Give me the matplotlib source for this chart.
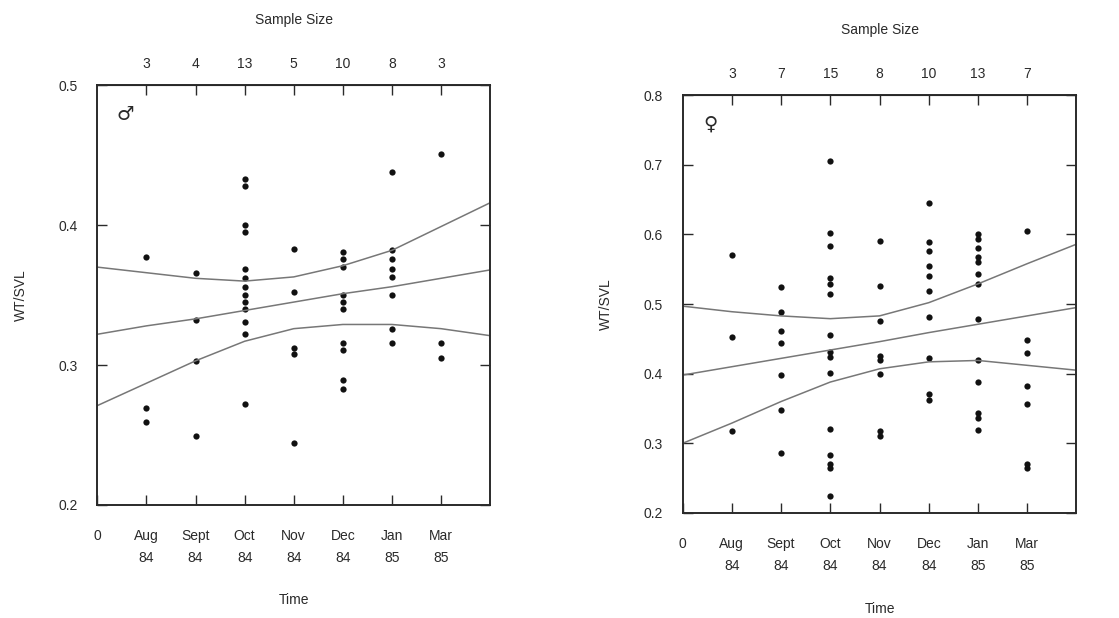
import numpy as np
import matplotlib.pyplot as plt

plt.rcParams['font.family'] = ['Liberation Sans', 'DejaVu Sans']

months = ['Aug\n84', 'Sept\n84', 'Oct\n84', 'Nov\n84', 'Dec\n84', 'Jan\n85', 'Mar\n85']

# male WT/SVL, one list per month
male = [
    [0.377, 0.269, 0.259],
    [0.366, 0.332, 0.303, 0.249],
    [0.433, 0.428, 0.400, 0.395, 0.369, 0.362, 0.356, 0.350, 0.345, 0.340,
     0.331, 0.322, 0.272],
    [0.383, 0.352, 0.312, 0.308, 0.244],
    [0.381, 0.376, 0.370, 0.350, 0.345, 0.340, 0.316, 0.311, 0.289, 0.283],
    [0.438, 0.382, 0.376, 0.369, 0.363, 0.350, 0.326, 0.316],
    [0.451, 0.316, 0.305],
]
male_n = [3, 4, 13, 5, 10, 8, 3]

# female WT/SVL
female = [
    [0.571, 0.453, 0.317],
    [0.524, 0.488, 0.462, 0.444, 0.398, 0.348, 0.286],
    [0.705, 0.602, 0.583, 0.538, 0.529, 0.515, 0.455, 0.431, 0.424, 0.401,
     0.321, 0.283, 0.271, 0.264, 0.224],
    [0.590, 0.526, 0.475, 0.426, 0.419, 0.399, 0.317, 0.310],
    [0.645, 0.589, 0.576, 0.555, 0.540, 0.519, 0.482, 0.423, 0.371, 0.362],
    [0.601, 0.593, 0.581, 0.567, 0.560, 0.543, 0.529, 0.479, 0.420, 0.388,
     0.343, 0.336, 0.319],
    [0.605, 0.448, 0.429, 0.383, 0.357, 0.271, 0.264],
]
female_n = [3, 7, 15, 8, 10, 13, 7]

# fitted line and bands, read at x = 0..8
curve_x = [0, 1, 2, 3, 4, 5, 6, 7, 8]
male_fit = [0.322, 0.328, 0.333, 0.339, 0.345, 0.351, 0.356, 0.362, 0.368]
male_hi = [0.370, 0.366, 0.362, 0.360, 0.363, 0.371, 0.382, 0.399, 0.416]
male_lo = [0.271, 0.287, 0.303, 0.317, 0.326, 0.329, 0.329, 0.326, 0.321]
female_fit = [0.398, 0.410, 0.422, 0.434, 0.446, 0.459, 0.471, 0.483, 0.495]
female_hi = [0.497, 0.489, 0.483, 0.479, 0.483, 0.502, 0.529, 0.558, 0.586]
female_lo = [0.300, 0.329, 0.360, 0.388, 0.407, 0.417, 0.419, 0.412, 0.405]

ink = '#2a2a2a'
fs = 10
fig = plt.figure(figsize=(11.19, 6.18), dpi=100)


def panel(rect, data, n, fit, hi, lo, ylim, yticks, sym, tpad):
    ax = fig.add_axes(rect)
    for i, vals in enumerate(data):
        ax.plot([i + 1] * len(vals), vals, 'o', color='#111111', ms=4.5,
                mec='none')
    for c in (fit, hi, lo):
        ax.plot(curve_x, c, color='#777777', lw=1.1)
    ax.set_xlim(0, 8)
    ax.set_ylim(*ylim)
    ax.set_yticks(yticks)
    ax.set_yticklabels([f'{t:.1f}' for t in yticks])
    ax.set_xticks(range(0, 8))
    ax.set_xticklabels(['0'] + months, linespacing=1.75)
    ax.tick_params(direction='in', length=7, width=1, color=ink, labelcolor=ink,
                   labelsize=fs, right=True, pad=17)
    ax.tick_params(axis='y', pad=14)
    for s in ax.spines.values():
        s.set_color(ink)
        s.set_linewidth(1.4)
    top = ax.secondary_xaxis('top')
    top.set_xticks(range(1, 8))
    top.set_xticklabels([str(v) for v in n])
    top.tick_params(direction='in', length=7, width=1, color=ink,
                    labelcolor=ink, labelsize=fs, pad=10)
    top.set_xlabel('Sample Size', fontsize=fs, color=ink, labelpad=24)
    ax.set_xlabel('Time', fontsize=fs, color=ink, labelpad=tpad)
    ax.set_ylabel('WT/SVL', fontsize=fs, color=ink, labelpad=22)
    ax.text(0.07, 0.93, sym, transform=ax.transAxes, fontsize=14, color=ink,
            family='DejaVu Sans', ha='center', va='center')
    return ax


panel([0.087, 0.183, 0.351, 0.679], male, male_n, male_fit, male_hi, male_lo,
      (0.2, 0.5), [0.2, 0.3, 0.4, 0.5], '\u2642', 20)
panel([0.610, 0.170, 0.352, 0.676], female, female_n, female_fit, female_hi,
      female_lo, (0.2, 0.8), [0.2, 0.3, 0.4, 0.5, 0.6, 0.7, 0.8], '\u2640', 21)

fig.savefig('out.png', dpi=100)
